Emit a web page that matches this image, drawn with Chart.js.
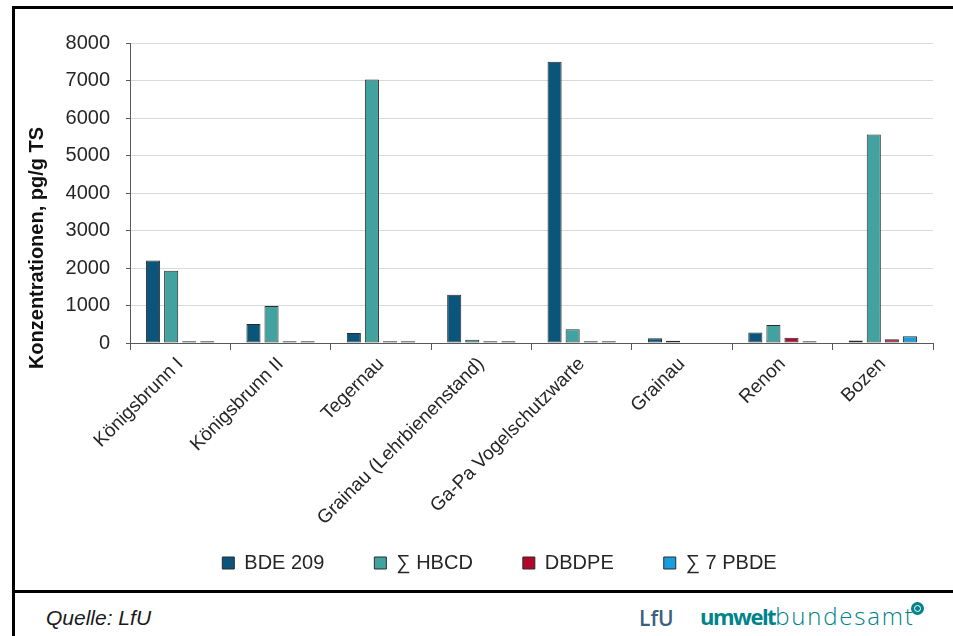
<!DOCTYPE html>
<html lang="de">
<head>
<meta charset="utf-8">
<title>Konzentrationen, pg/g TS</title>
<script src="https://cdn.jsdelivr.net/npm/chart.js@4.4.1/dist/chart.umd.min.js"></script>
<style>
  html, body { margin: 0; padding: 0; background: #fff; }
  #page { position: relative; width: 953px; height: 636px; overflow: hidden; font-family: "Liberation Sans", Arial, sans-serif; }
  #frame { position: absolute; left: 12px; top: 6px; width: 960px; height: 640px; border-left: 3px solid #000; border-top: 3px solid #000; }
  #sep { position: absolute; left: 12px; top: 590px; width: 941px; height: 3px; background: #000; }
  #chartBox { position: absolute; left: 0; top: 0; width: 953px; height: 590px; }
  #quelle { position: absolute; left: 46px; top: 606px; font-size: 21px; font-style: italic; color: #1a1a1a; }
  #lfu { position: absolute; left: 639px; top: 604px; font-family: "Open Sans", sans-serif; font-size: 21px; font-weight: 600; color: #3d5f7e; }
  #uba { position: absolute; left: 700px; top: 599px; font-family: "Open Sans", sans-serif; font-size: 24px; color: #00838a; white-space: nowrap; }
  #uba b { font-size: 22px; font-weight: 700; letter-spacing: -1.5px; }
  #uba span.light { font-weight: 300; letter-spacing: 1.8px; }
  #uba .dot { position: absolute; left: 211px; top: 3px; width: 13px; height: 13px; border-radius: 50%; background: #00838a; }
  #uba .dot::after { content: ""; position: absolute; left: 3px; top: 3px; width: 5px; height: 5px; border: 1px solid #fff; border-radius: 50%; }
</style>
</head>
<body>
<div id="page">
  <div id="frame"></div>
  <div id="sep"></div>
  <div id="chartBox"><canvas id="myChart"></canvas></div>
  <div id="quelle">Quelle: LfU</div>
  <div id="lfu">LfU</div>
  <div id="uba"><b>umwelt</b><span class="light">bundesamt</span><span class="dot"></span></div>
</div>
<script>
// Messstellen
const categories = [
  "Königsbrunn I",
  "Königsbrunn II",
  "Tegernau",
  "Grainau (Lehrbienenstand)",
  "Ga-Pa Vogelschutzwarte",
  "Grainau",
  "Renon",
  "Bozen"
];

// Konzentrationen in pg/g TS
const bde209 = [2200, 510, 270, 1290, 7500, 130, 280, 70];
const hbcd = [1930, 990, 7030, 90, 370, 60, 480, 5560];
const dbdpe = [50, 50, 50, 50, 50, null, 140, 100];
const pbde7 = [50, 50, 50, 50, 50, null, 45, 180];

const seriesNames = ["BDE 209", "∑ HBCD", "DBDPE", "∑ 7 PBDE"];
const seriesColors = ["#0a5579", "#41a29f", "#b1072a", "#1a9edb"];

const yMin = 0;
const yMax = 8000;
const yStep = 1000;
const yTitle = "Konzentrationen, pg/g TS";

const fontFamily = "'Liberation Sans', Arial, sans-serif";

// Achsentitel selbst zeichnen, damit er wie im Original sitzt
const yTitlePlugin = {
  id: "yTitle",
  afterDraw(chart) {
    const ctx = chart.ctx;
    ctx.save();
    ctx.translate(43, 248);
    ctx.rotate(-Math.PI / 2);
    ctx.font = "bold 20px " + fontFamily;
    ctx.fillStyle = "#111";
    ctx.textAlign = "center";
    ctx.textBaseline = "alphabetic";
    ctx.fillText(yTitle, 0, 0);
    ctx.restore();
  }
};

function createChart(canvasId) {
  let ctx = document.getElementById(canvasId).getContext("2d");
  let values = [bde209, hbcd, dbdpe, pbde7];
  new Chart(ctx, {
    type: "bar",
    data: {
      labels: categories,
      datasets: values.map((data, i) => ({
        label: seriesNames[i],
        data: data,
        backgroundColor: seriesColors[i],
        borderColor: "#2b2b2b",
        borderWidth: 1,
        borderSkipped: false,
        categoryPercentage: 0.72,
        barPercentage: 0.78
      }))
    },
    options: {
      responsive: true,
      maintainAspectRatio: false,
      animation: false,
      layout: { padding: { left: 66, right: 20, top: 43, bottom: 7 } },
      plugins: {
        legend: {
          position: "bottom",
          labels: {
            color: "#262626",
            font: { size: 20, family: fontFamily },
            boxWidth: 12,
            boxHeight: 12,
            padding: 50
          }
        },
        tooltip: { enabled: false }
      },
      scales: {
        x: {
          afterFit: (s) => {
            s.height = 160;
            // lange Beschriftungen nicht abschneiden
            s._computeLabelArea = () => undefined;
          },
          grid: {
            offset: true,
            drawOnChartArea: false,
            tickLength: 7,
            tickColor: "#595959"
          },
          border: { color: "#595959", width: 1 },
          ticks: {
            color: "#262626",
            font: { size: 19, family: fontFamily },
            minRotation: 45,
            maxRotation: 45,
            autoSkip: false
          }
        },
        y: {
          min: yMin,
          max: yMax,
          afterFit: (s) => { s.width = 64; },
          grid: {
            color: "#d9d9d9",
            tickColor: "#595959",
            tickLength: 4
          },
          border: { color: "#595959", width: 1 },
          ticks: {
            stepSize: yStep,
            padding: 16,
            color: "#262626",
            font: { size: 20, family: fontFamily },
            callback: (v) => String(v)
          }
        }
      }
    },
    plugins: [yTitlePlugin]
  });
}

createChart("myChart");
</script>
</body>
</html>
